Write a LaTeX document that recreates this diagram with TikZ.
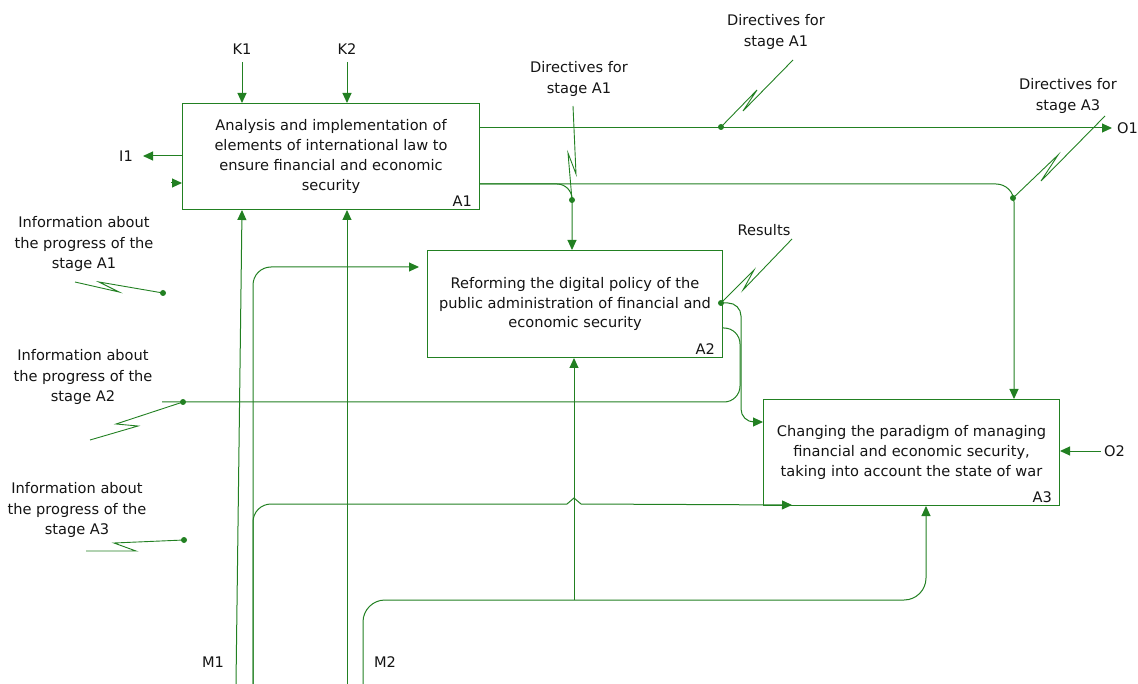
\documentclass[tikz,border=0pt]{standalone}
\usepackage{fontspec}
\setmainfont{DejaVu Sans}
\usetikzlibrary{arrows.meta}
\definecolor{ln}{RGB}{34,128,34}
\definecolor{tx}{RGB}{20,20,20}
\tikzset{
  conn/.style={draw=ln, line width=1pt},
  arr/.style={conn, -{Triangle[length=10pt,width=9pt]}},
  zig/.style={draw=ln, line width=0.9pt},
  dotn/.style={circle, fill=ln, inner sep=0pt, minimum size=6pt},
  fnbox/.style={draw=ln, line width=1pt, anchor=north west, inner sep=0pt},
  lbl/.style={text=tx, font=\fontsize{14.6}{20.8}\selectfont, align=center, inner sep=0pt},
  boxtxt/.style={text=tx, font=\fontsize{14.6}{19.8}\selectfont, align=center, inner sep=0pt},
}
\begin{document}
\begin{tikzpicture}[x=1pt,y=-1pt]
\useasboundingbox (0,0) rectangle (1138,684);
% boxes
\node[fnbox, minimum width=297pt, minimum height=106pt] (A1) at (182,103) {};
\node[fnbox, minimum width=295pt, minimum height=107pt] (A2) at (427,250) {};
\node[fnbox, minimum width=296pt, minimum height=106pt] (A3) at (763,399) {};
\node[boxtxt] (A1t) at (A1.center) {Analysis and implementation of\\elements of international law to\\ensure financial and economic\\security};
\node[boxtxt] (A2t) at (A2.center) {Reforming the digital policy of the\\public administration of financial and\\economic security};
\node[boxtxt] (A3t) at (A3.center) {Changing the paradigm of managing\\financial and economic security,\\taking into account the state of war};
\node[lbl, anchor=south east] (A1n) at ([shift={(-8,-3)}]A1.south east) {A1};
\node[lbl, anchor=south east] (A2n) at ([shift={(-8,-3)}]A2.south east) {A2};
\node[lbl, anchor=south east] (A3n) at ([shift={(-8,-3)}]A3.south east) {A3};

% external labels
\node[lbl] (K1) at (242,49) {K1};
\node[lbl] (K2) at (347,49) {K2};
\node[lbl] (I1) at (126,156) {I1};
\node[lbl, anchor=west] (O1) at (1117,128) {O1};
\node[lbl, anchor=west] (O2) at (1104,451) {O2};
\node[lbl] (M1) at (213,662) {M1};
\node[lbl] (M2) at (385,662) {M2};
\node[lbl] (dirA1top) at (776,32) {Directives for\\stage A1};
\node[lbl] (dirA1mid) at (579,79) {Directives for\\stage A1};
\node[lbl] (dirA3) at (1068,96) {Directives for\\stage A3};
\node[lbl] (res) at (764,230) {Results};
\node[lbl] (infA1) at (84,244) {Information about\\the progress of the\\stage A1};
\node[lbl] (infA2) at (83,377) {Information about\\the progress of the\\stage A2};
\node[lbl] (infA3) at (77,510) {Information about\\the progress of the\\stage A3};

% coordinates
\coordinate (k1) at (242,62);
\coordinate (k2) at (347,62);
\coordinate (i1) at (143,156);
\coordinate (inA1) at (171,183);
\coordinate (o1) at (1112,128);
\coordinate (o2) at (1101,451);
\coordinate (m1a) at (236,684);
\coordinate (m1b) at (253,684);
\coordinate (m2a) at (347,684);
\coordinate (m2b) at (363,684);
\coordinate (brA) at (567,504);
\coordinate (brT) at (574,498);
\coordinate (brB) at (581,504);
\coordinate (a3in) at (792,505);
\coordinate (j2) at (574,600);
\coordinate (c572) at (572,184);
\coordinate (c1014) at (1014,184);
\coordinate (r303) at (741,303);
\coordinate (r328) at (740,328);
\coordinate (r422) at (741,422);
\coordinate (c926) at (926,600);
\coordinate (f402) at (162,402);
\coordinate (a2in) at (419,267);

% controls / inputs / outputs of A1
\draw[arr] (k1) -- (k1 |- A1.north);
\draw[arr] (k2) -- (k2 |- A1.north);
\draw[arr] (i1 -| A1.west) -- (i1);
\draw[arr] (inA1) -- (inA1 -| A1.west);
\draw[arr] (o1 -| A1.east) -- (o1);
\draw[arr, rounded corners=15pt] (c572 -| A1.east) -- (c572) -- (c572 |- A2.north);
\draw[arr, rounded corners=18pt] (c1014 -| A1.east) -- (c1014) -- (c1014 |- A3.north);

% A2 outputs
\draw[arr, rounded corners=13pt] (r303 -| A2.east) -- (r303) -- (r422) -- (r422 -| A3.west);
\draw[conn, rounded corners=16pt] (r328 -| A2.east) -- (r328) -- (f402 -| r328) -- (f402);

% O2
\draw[arr] (o2) -- (o2 -| A3.east);

% mechanisms
\draw[arr] (m1a) -- (k1 |- A1.south);
\draw[arr] (m2a) -- (k2 |- A1.south);
\draw[arr, rounded corners=18pt] (m1b) -- (m1b |- a2in) -- (a2in);
\draw[conn, rounded corners=18pt] (m1b) -- (m1b |- brA) -- (brA);
\draw[conn] (brA) -- (brT) -- (brB);
\draw[arr] (brB) -- (a3in);
\draw[arr, rounded corners=22pt] (m2b) -- (m2b |- c926) -- (c926) -- (c926 |- A3.south);
\draw[arr] (j2) -- (j2 |- A2.south);

% tunnel zigzags and dots
\draw[zig] (793,60) -- (743,111) -- (757,90) -- (721,127);
\node[dotn] (d1) at (721,127) {};
\draw[zig] (573,106) -- (576,174) -- (568,153) -- (572,200);
\node[dotn] (d2) at (572,200) {};
\draw[zig] (1105,116) -- (1041,181) -- (1058,155) -- (1013,198);
\node[dotn] (d3) at (1013,198) {};
\draw[zig] (792,239) -- (743,290) -- (754,270) -- (721,303);
\node[dotn] (d4) at (721,303) {};
\draw[zig] (75,282) -- (119,292) -- (99,282) -- (163,293);
\node[dotn] (d5) at (163,293) {};
\draw[zig] (90,440) -- (138,426) -- (116,424) -- (183,402);
\node[dotn] (d6) at (183,402) {};
\draw[zig] (86,551) -- (136,551) -- (114,543) -- (184,540);
\node[dotn] (d7) at (184,540) {};
\end{tikzpicture}
\end{document}
